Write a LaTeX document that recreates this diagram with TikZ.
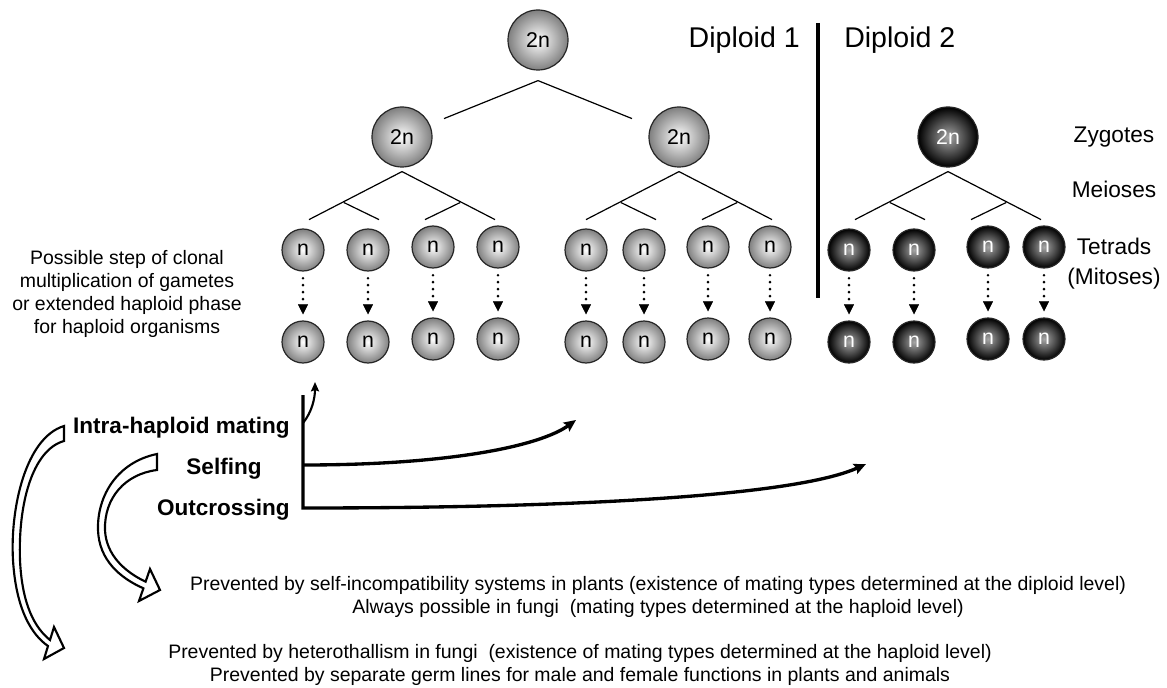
\documentclass[tikz,border=0pt]{standalone}
\usepackage{fontspec}
\setmainfont{Liberation Sans}
\usetikzlibrary{arrows.meta}

\begin{document}
\begin{tikzpicture}[x=0.75pt,y=-0.75pt,
  ball/.style={circle,draw=black!85,line width=0.9pt,inner sep=0pt,minimum size=31.5pt,
    shading=radial,inner color=white,outer color=black!50,font=\fontsize{16}{16}\selectfont},
  bigball/.style={ball,minimum size=45pt},
  darkball/.style={inner color=black!35,outer color=black,text=white},
  dotarrow/.style={line width=2.2pt,line cap=round,dash pattern=on 0pt off 5.2pt,
    shorten <=5pt,shorten >=4.5pt,-{Triangle[length=7.5pt,width=7.5pt,line width=0.1pt]}},
  mate/.style={line width=2.5pt,-{Stealth[length=9pt,width=8pt,inset=1.5pt]}},
  hollow/.style={draw=black,line width=1.6pt,fill=white,line join=miter},
  small/.style={font=\fontsize{14.6}{17.3}\selectfont,align=center,inner sep=0pt},
  big/.style={font=\fontsize{17}{17}\selectfont,inner sep=0pt},
  bold/.style={font=\fontsize{16.9}{16.9}\selectfont\bfseries,inner sep=0pt}]
\useasboundingbox (0,0) rectangle (1167,688);

% zygotes
\node[bigball] (d0) at (538,40) {2n};
\node[bigball] (d1) at (402,137) {2n};
\node[bigball] (d2) at (679,137) {2n};
\node[bigball,darkball] (z2) at (948,137) {2n};

\draw[line width=0.9pt] (d0.south) ++(0,10) coordinate (m0) -- ++(-94,38) (m0) -- ++(94,38);
% meioses
\foreach \p in {d1,d2,z2}
  \draw[line width=0.9pt] (\p.south) ++(0,4) coordinate (a) -- ++(-93,48)
    (a) ++(-58,31) -- ++(35,17) (a) -- ++(93,48) (a) ++(58,31) -- ++(-35,17);

% tetrads and mitoses
\foreach \x/\y [count=\i] in {303/250,368/250,433/247,498/247,586/250,644/250,708/247,770/247} {
  \node[ball] (t\i) at (\x,\y) {n};
  \node[ball] (c\i) at (\x,\y+92) {n};
  \draw[dotarrow] (t\i) -- (c\i);
}
\foreach \x/\y [count=\i] in {849/250,914/250,988/247,1044/247} {
  \node[ball,darkball] (u\i) at (\x,\y) {n};
  \node[ball,darkball] (v\i) at (\x,\y+92) {n};
  \draw[dotarrow] (u\i) -- (v\i);
}

\draw[line width=2.3pt] (818,23) -- (818,298);
\node[big,font=\fontsize{21.4}{21.4}\selectfont,anchor=base east] (dip1) at (800,48) {Diploid 1};
\node[big,font=\fontsize{21.4}{21.4}\selectfont,anchor=base west] (dip2) at (844,48) {Diploid 2};
\node[big,anchor=base] (zyg) at (1114,143) {Zygotes};
\node[big,anchor=base] (mei) at (1114,197) {Meioses};
\node[big,anchor=base] (tet) at (1114,254) {Tetrads};
\node[big,anchor=base] (mit) at (1114,284) {(Mitoses)};

\node[small] (clonal) at (127,294) {Possible step of clonal\\multiplication of gametes\\or extended haploid phase\\for haploid organisms};

% matings
\node[bold,anchor=base east] (intra) at (290,433) {Intra-haploid mating};
\node[bold,anchor=base] (self) at (224,474) {Selfing};
\node[bold,anchor=base east] (out) at (290,515) {Outcrossing};

\coordinate (top) at (303,395);
\coordinate (sf) at (303,465);
\coordinate (oc) at (303,508);
\coordinate (ihend) at (315,382);
\coordinate (sfend) at (576,420);
\coordinate (ocend) at (866,464);
\draw[mate] (top) -- (oc) .. controls (600,508) and (800,494) .. (ocend);
\draw[mate] (sf) .. controls (450,465) and (540,446) .. (sfend);
\draw[line width=1.6pt,-{Stealth[length=7pt,width=6pt,inset=1pt]}] (303,423) .. controls (312,412) and (315,398) .. (ihend);

% hollow arrows
\draw[hollow] (64,426) .. controls (25,438) and (10,510) .. (13,560)
  .. controls (16,610) and (32,635) .. (48,646) -- (44,659) -- (64,648) -- (54,627) -- (50,640)
  .. controls (35,628) and (22,605) .. (20,560) .. controls (18,505) and (32,450) .. (64,441) -- cycle;
\draw[hollow] (157,454) .. controls (118,462) and (97,495) .. (98,530)
  .. controls (99,560) and (120,578) .. (143.4,588.3) -- (139,601) -- (160,590) -- (150,569) -- (145.6,581.7)
  .. controls (125,572) and (106,555) .. (105,530) .. controls (104,498) and (125,474) .. (157,470) -- cycle;

\node[small] (plants) at (658,597) {Prevented by self-incompatibility systems in plants (existence of mating types determined at the diploid level)\\Always possible in fungi\ \ (mating types determined at the haploid level)};
\node[small] (fungi) at (580,665) {Prevented by heterothallism in fungi\ \ (existence of mating types determined at the haploid level)\\Prevented by separate germ lines for male and female functions in plants and animals};
\end{tikzpicture}
\end{document}
